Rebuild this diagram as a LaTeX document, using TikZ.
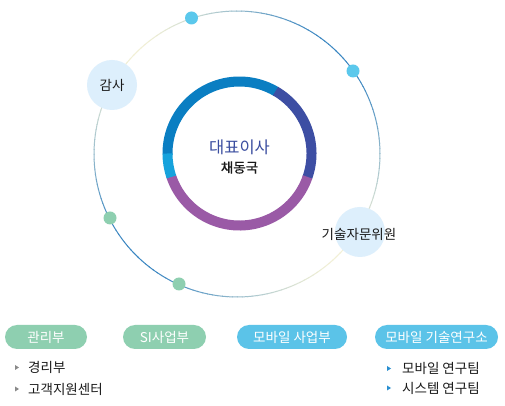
\documentclass[tikz,border=0pt]{standalone}
\usepackage{fontspec}
\setmainfont{Noto Sans CJK KR}
\definecolor{oblue}{HTML}{3A86C2}
\definecolor{opale}{HTML}{F2F0D6}
\definecolor{rblue}{HTML}{0A7EC2}
\definecolor{rindigo}{HTML}{3D4EA3}
\definecolor{rpurple}{HTML}{9A5AA6}
\definecolor{rlight}{HTML}{16A2DC}
\definecolor{dotblue}{HTML}{5BC8EC}
\definecolor{dotgreen}{HTML}{8ECFB0}
\definecolor{bubble}{HTML}{DDEFFC}
\definecolor{titleblue}{HTML}{3B4EA0}
\definecolor{pillgreen}{HTML}{8ECFB0}
\definecolor{pillblue}{HTML}{5BC3E8}
\definecolor{bulgrey}{HTML}{8A8A8A}
\definecolor{bulblue}{HTML}{2A8FD0}
\definecolor{txt}{HTML}{1A1A1A}
\tikzset{
  ring/.style={line width=10pt},
  dot/.style={circle, inner sep=0pt, minimum size=13pt},
  bubblenode/.style={circle, fill=bubble, inner sep=0pt, minimum size=50pt},
  label/.style={font=\fontsize{13.5}{15}\selectfont, text=txt, inner sep=0pt},
  pill/.style={rounded corners=12pt, minimum height=24pt, inner sep=0pt, text=white, font=\fontsize{13.5}{15}\selectfont},
  item/.style={font=\fontsize{13.5}{15}\selectfont, text=txt, inner sep=0pt, anchor=west},
}
\begin{document}
\begin{tikzpicture}[x=1pt,y=1pt]
\useasboundingbox (0,0) rectangle (505,406);
\fill[white] (0,0) rectangle (505,406);
% outer orbit with conic gradient
\coordinate (C) at (237,252);
\foreach \a in {0,2,...,358}{
  \pgfmathsetmacro\t{50+50*cos(2*(\a+1-45))}
  \draw[line width=1pt, color=oblue!\t!opale] ([shift={(\a:143)}]C) arc[start angle=\a, end angle=\a+2.3, radius=143];
}
% inner ring
\coordinate (R) at (239.5,252.5);
\draw[ring, rblue] ([shift={(181:72)}]R) arc[start angle=181, end angle=59, radius=72];
\draw[ring, rindigo] ([shift={(60:72)}]R) arc[start angle=60, end angle=-20, radius=72];
\draw[ring, rpurple] ([shift={(-19:72)}]R) arc[start angle=-19, end angle=-162, radius=72];
\draw[ring, rlight] ([shift={(-161:72)}]R) arc[start angle=-161, end angle=-180, radius=72];
\node[font=\fontsize{16.5}{18}\selectfont, text=titleblue, inner sep=0pt] (ceo) at (239.5,258.5) {대표이사};
\node[label, font=\fontsize{13.5}{15}\selectfont\addfontfeature{FakeBold=0.9}] (name) at (239.5,238.5) {채동국};
% dots on orbit
\node[dot, fill=dotblue] (d1) at (191.5,388) {};
\node[dot, fill=dotblue] (d2) at (353,335) {};
\node[dot, fill=dotgreen] (d3) at (110,188) {};
\node[dot, fill=dotgreen] (d4) at (179,122) {};
% bubbles
\node[bubblenode] (audit) at (112,321) {};
\node[label] (auditt) at (112,321) {감사};
\node[bubblenode] (adv) at (360,174) {};
\node[label] (advt) at (359,172) {기술자문위원};
% pills
\node[pill, fill=pillgreen, minimum width=82pt] (p1) at (46,69) {관리부};
\node[pill, fill=pillgreen, minimum width=83pt] (p2) at (164.5,69) {SI사업부};
\node[pill, fill=pillblue, minimum width=110pt] (p3) at (292,69) {모바일 사업부};
\node[pill, fill=pillblue, minimum width=123pt] (p4) at (436.5,69) {모바일 기술연구소};
% lists
\fill[bulgrey] (15,41) -- (19,38.5) -- (15,36) -- cycle;
\fill[bulgrey] (15,19.5) -- (19,17) -- (15,14.5) -- cycle;
\node[item] (l1) at (28,38.5) {경리부};
\node[item] (l2) at (28,17) {고객지원센터};
\fill[bulblue] (387,40) -- (391,37.5) -- (387,35) -- cycle;
\fill[bulblue] (387,20.5) -- (391,18) -- (387,15.5) -- cycle;
\node[item] (r1) at (402,37.5) {모바일 연구팀};
\node[item] (r2) at (402,18) {시스템 연구팀};
\end{tikzpicture}
\end{document}
